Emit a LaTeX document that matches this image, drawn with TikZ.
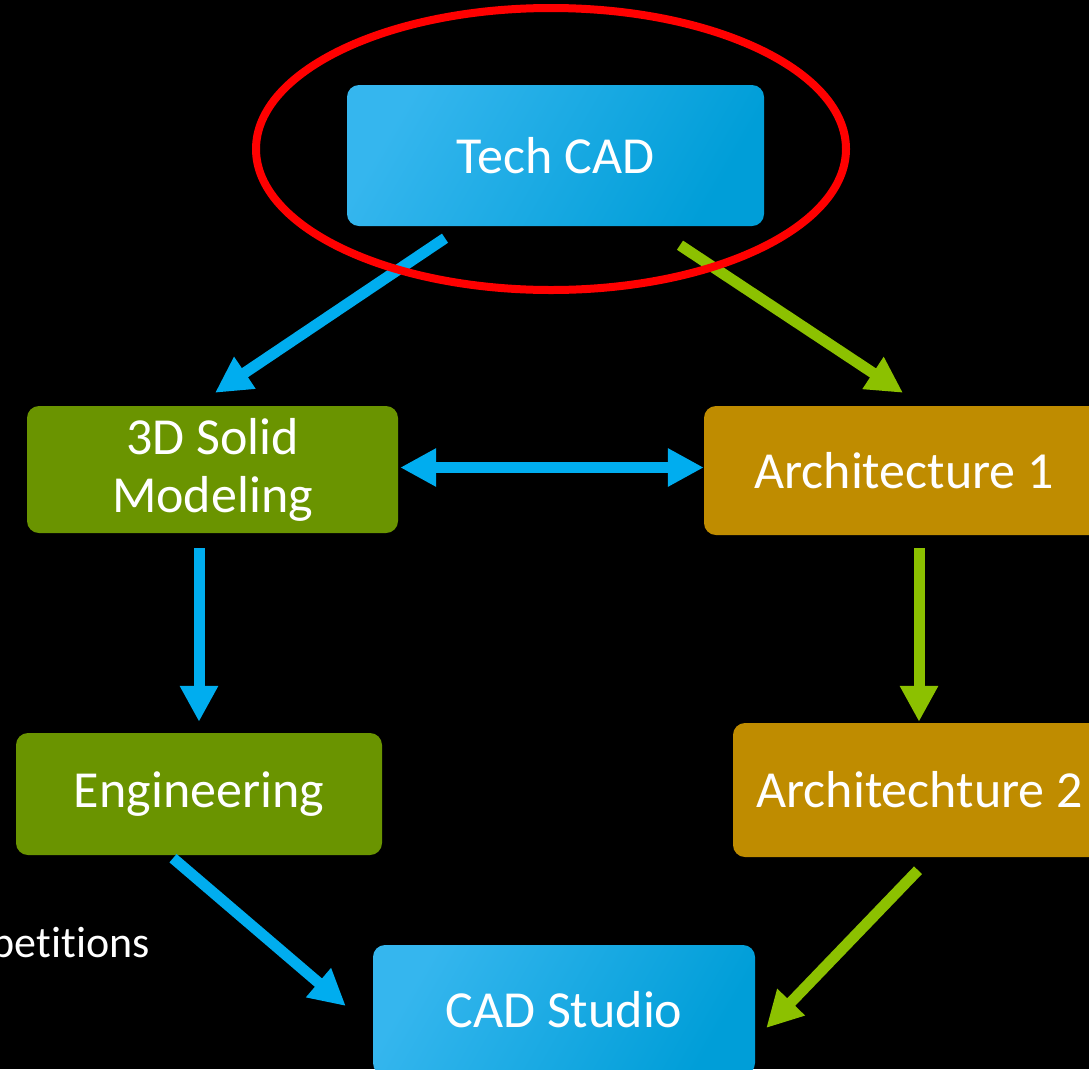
\documentclass[tikz,border=0pt]{standalone}
\usepackage{fontspec}
\setmainfont{Carlito}[Ligatures=NoCommon]
\usetikzlibrary{arrows.meta,calc,shapes.geometric}
\definecolor{bgblack}{HTML}{000000}
\definecolor{blueL}{HTML}{35B6EE}
\definecolor{blueM}{HTML}{00ADEF}
\definecolor{blueD}{HTML}{009ED8}
\definecolor{greenbox}{HTML}{6A9400}
\definecolor{goldbox}{HTML}{BF8C00}
\definecolor{arrblue}{HTML}{00ADEF}
\definecolor{arrgreen}{HTML}{8CC100}
\definecolor{ringred}{HTML}{FF0000}
\tikzset{
  box/.style={rounded corners=12pt, inner sep=0pt, text=white, align=center,
    font=\fontsize{52}{58}\selectfont},
  bluebox/.style={box, top color=blueL, middle color=blueM, bottom color=blueD, shading angle=60},
  greenbx/.style={box, fill=greenbox},
  goldbx/.style={box, fill=goldbox},
  conn/.style={line width=11pt, -{Triangle[length=36pt,width=36pt]}},
  bconn/.style={conn, arrblue},
  gconn/.style={conn, arrgreen},
  dconn/.style={line width=11pt, {Triangle[length=36pt,width=36pt]}-{Triangle[length=36pt,width=36pt]}, arrblue}
}
\begin{document}
\begin{tikzpicture}[x=1pt,y=-1pt]
\fill[bgblack] (0,0) rectangle (1089,1069);
\useasboundingbox (0,0) rectangle (1089,1069);
\clip (0,0) rectangle (1089,1069);

\node[bluebox, minimum width=417pt, minimum height=141pt] (tech) at (555.5,155.5) {Tech CAD};
\node[greenbx, minimum width=371pt, minimum height=127pt] (solid) at (212.5,469.5) {3D Solid\\Modeling};
\node[goldbx, minimum width=400pt, minimum height=129pt] (arch1) at (904,470.5) {Architecture 1};
\node[greenbx, minimum width=366pt, minimum height=122pt] (eng) at (199,794) {Engineering};
\node[goldbx, minimum width=373pt, minimum height=134pt] (arch2) at (919.5,790) {Architechture 2};
\node[bluebox, minimum width=382pt, minimum height=130pt] (studio) at (564,1010) {CAD Studio};

\node[anchor=base east, text=white, font=\fontsize{44}{50}\selectfont, inner sep=0pt] (comp) at (150,957) {petitions};

\draw[bconn] ($(tech.south)+(-110.5,12)$) -- ($(solid.north)+(2.5,-13)$);
\draw[gconn] ($(tech.south)+(124.5,19)$) -- ($(arch1.north)+(-1,-13)$);
\draw[dconn] ($(solid.east)+(2,-2)$) -- ($(arch1.west)+(0,-3)$);
\draw[bconn] ($(solid.south)+(-13.5,15)$) -- ($(eng.north)+(0,-11)$);
\draw[gconn] ($(arch1.south)+(15,13)$) -- ($(arch2.north)+(-0.5,-1)$);
\draw[bconn] ($(eng.south)+(-26,3)$) -- ($(studio.west)+(-27,-4)$);
\draw[gconn] ($(arch2.south)+(-1.5,13)$) -- ($(studio.east)+(11,18)$);

\node[draw=ringred, line width=8pt, ellipse, minimum width=590pt, minimum height=282pt, inner sep=0pt] (ring) at (551,149) {};
\end{tikzpicture}
\end{document}
